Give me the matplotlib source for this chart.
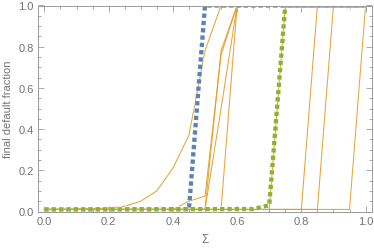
import numpy as np
import matplotlib.pyplot as plt
from matplotlib.ticker import MultipleLocator
import matplotlib.patheffects as pe

plt.rcParams["font.family"] = ["Liberation Sans", "DejaVu Sans"]

# simulated runs (x = Sigma, y = final default fraction)
run_a_x = [0.0, 0.05, 0.1, 0.15, 0.2, 0.25, 0.3, 0.35, 0.4, 0.45, 0.5, 0.55, 1.0]
run_a_y = [0.01, 0.01, 0.012, 0.014, 0.017, 0.025, 0.05, 0.1, 0.21, 0.37, 0.78, 1.0, 1.0]
run_b_x = [0.0, 0.4, 0.45, 0.5, 0.55, 0.6, 1.0]
run_b_y = [0.01, 0.01, 0.05, 0.075, 0.76, 1.0, 1.0]
run_c_x = [0.0, 0.5, 0.55, 0.6, 1.0]
run_c_y = [0.01, 0.01, 0.78, 1.0, 1.0]
run_e_x = [0.0, 0.5, 0.55, 0.6, 1.0]
run_e_y = [0.01, 0.01, 0.5, 1.0, 1.0]
run_d_x = [0.0, 0.55, 0.6, 1.0]
run_d_y = [0.01, 0.01, 1.0, 1.0]
run_f_x = [0.0, 0.7, 0.75, 1.0]
run_f_y = [0.01, 0.01, 1.0, 1.0]
run_g_x = [0.0, 0.8, 0.85, 1.0]
run_g_y = [0.01, 0.01, 1.0, 1.0]
run_h_x = [0.0, 0.85, 0.9, 1.0]
run_h_y = [0.01, 0.01, 1.0, 1.0]
run_i_x = [0.0, 0.95, 1.0]
run_i_y = [0.01, 0.01, 1.0]

blue_x = [0.0, 0.45, 0.5, 1.0]
blue_y = [0.01, 0.01, 1.0, 1.0]
green_x = [0.0, 0.65, 0.7, 0.75, 1.0]
green_y = [0.01, 0.012, 0.03, 1.0, 1.0]

orange = "#E19C24"
blue = "#5E81B5"
green = "#8FB032"
grey = "#9a9a9a"
text_grey = "#737373"

fig = plt.figure(figsize=(3.74, 2.51), dpi=100)
ax = fig.add_axes([38 / 374, 1 - 212.5 / 251, 334 / 374, 206 / 251])

runs = [(run_a_x, run_a_y), (run_b_x, run_b_y), (run_c_x, run_c_y),
        (run_e_x, run_e_y), (run_d_x, run_d_y), (run_f_x, run_f_y),
        (run_g_x, run_g_y), (run_h_x, run_h_y), (run_i_x, run_i_y)]
for rx, ry in runs:
    ax.plot(rx, ry, color=orange, lw=0.75, alpha=0.9, solid_joinstyle="miter")

halo = [pe.Stroke(linewidth=4.3, foreground="white", alpha=0.7), pe.Normal()]
for sx, sy, c in [(blue_x, blue_y, blue), (green_x, green_y, green)]:
    line, = ax.plot(sx, sy, color=c, lw=3.1, dash_capstyle="butt")
    line.set_dashes([1, 0.7])
    line.set_path_effects(halo)

ax.set_xlim(-0.02, 1.02)
ax.set_ylim(0, 1)
ax.xaxis.set_major_locator(MultipleLocator(0.2))
ax.xaxis.set_minor_locator(MultipleLocator(0.05))
ax.yaxis.set_major_locator(MultipleLocator(0.2))
ax.yaxis.set_minor_locator(MultipleLocator(0.05))
ax.xaxis.set_major_formatter(lambda v, p: f"{v:.1f}")
ax.yaxis.set_major_formatter(lambda v, p: f"{v:.1f}")
ax.tick_params(which="both", direction="in", top=True, right=True,
               color=grey, labelcolor=text_grey, labelsize=8, width=0.6)
ax.tick_params(which="major", length=4, pad=3)
ax.tick_params(which="minor", length=2.2)
for s in ax.spines.values():
    s.set_color(grey)
    s.set_linewidth(0.7)

ax.set_xlabel("Σ", color=text_grey, fontsize=8.5, labelpad=5)
ax.set_ylabel("final default fraction", color=text_grey, fontsize=8, labelpad=4)

fig.savefig("out.png", dpi=100)
